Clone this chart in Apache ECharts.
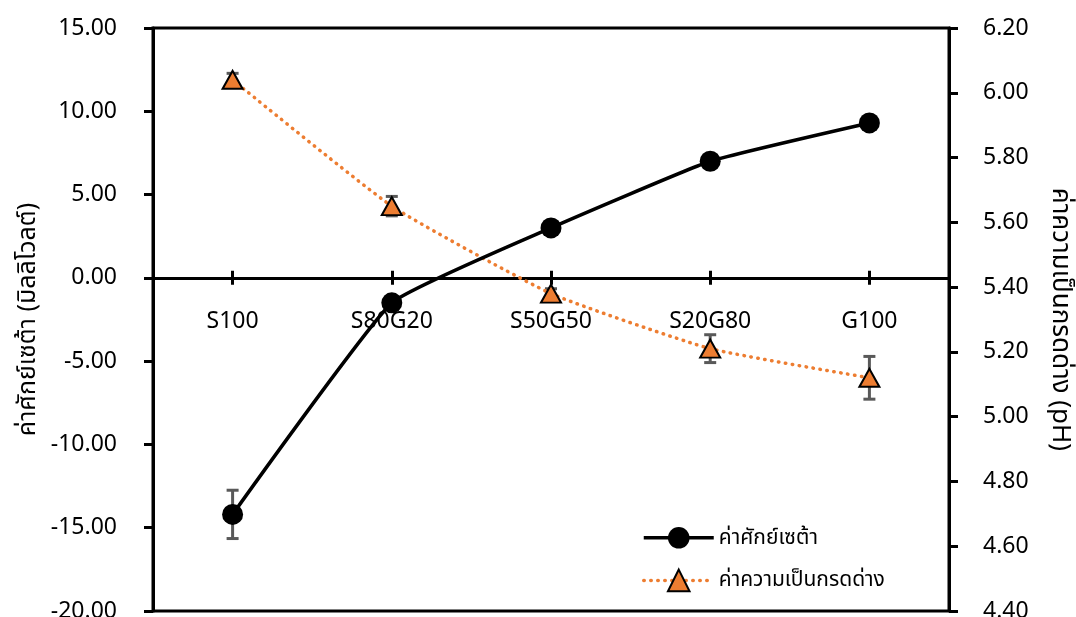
<!DOCTYPE html>
<html>
<head>
<meta charset="utf-8">
<script src="https://cdn.jsdelivr.net/npm/echarts@6/dist/echarts.min.js"></script>
<style>
  html, body { margin: 0; padding: 0; background: #fff; }
  #chart { width: 1076px; height: 617px; }
</style>
</head>
<body>
<div id="chart"></div>
<script>
// Samples (soy / gelatin blend ratios)
const categories = ['S100', 'S80G20', 'S50G50', 'S20G80', 'G100'];

// Zeta potential (mV) with standard deviation
const zeta = [-14.2, -1.5, 3.0, 7.0, 9.3];
const zetaErr = [1.45, 0.35, 0.3, 0.3, 0.35];

// pH with standard deviation
const ph = [6.04, 5.65, 5.38, 5.21, 5.12];
const phErr = [0.02, 0.03, 0.015, 0.043, 0.066];

// Axis ranges
const zetaMin = -20, zetaMax = 15, zetaStep = 5;
const phMin = 4.4, phMax = 6.2, phStep = 0.2;

const zetaName = 'ค่าศักย์เซต้า';
const phName = 'ค่าความเป็นกรดด่าง';
const zetaAxisTitle = 'ค่าศักย์เซต้า (มิลลิโวลต์)';
const phAxisTitle = 'ค่าความเป็นกรดด่าง (pH)';

const FONT = '"Noto Sans", "Noto Sans Thai", "DejaVu Sans", sans-serif';
const ORANGE = '#ED7D31';
const ERR_COLOR = '#595959';

function errorBars(values, errs) {
  return values.map((v, i) => [i, v - errs[i], v + errs[i]]);
}

function renderErrorBar(params, api) {
  const x = api.value(0);
  const lo = api.coord([x, api.value(1)]);
  const hi = api.coord([x, api.value(2)]);
  const half = 6;
  const style = { stroke: ERR_COLOR, lineWidth: 3, fill: null };
  return {
    type: 'group',
    children: [
      { type: 'line', shape: { x1: lo[0], y1: lo[1], x2: hi[0], y2: hi[1] }, style },
      { type: 'line', shape: { x1: lo[0] - half, y1: lo[1], x2: lo[0] + half, y2: lo[1] }, style },
      { type: 'line', shape: { x1: hi[0] - half, y1: hi[1], x2: hi[0] + half, y2: hi[1] }, style }
    ]
  };
}

// Category names sit just under the zero line of the zeta axis
function renderCategoryLabel(params, api) {
  const i = api.value(0);
  const pt = api.coord([i, 0]);
  return {
    type: 'text',
    x: pt[0],
    y: pt[1] + 44,
    style: {
      text: categories[i],
      fill: '#000',
      font: '23px ' + FONT,
      align: 'center',
      verticalAlign: 'middle'
    }
  };
}

const chart = echarts.init(document.getElementById('chart'), null, { renderer: 'canvas' });

const axisText = { color: '#000', fontSize: 23, fontFamily: FONT };

chart.setOption({
  animation: false,
  backgroundColor: '#fff',
  textStyle: { fontFamily: FONT, color: '#000' },
  grid: {
    left: 153, right: 127, top: 28, bottom: 6,
    containLabel: false,
    outerBoundsMode: 'none',
    show: true, borderColor: '#000', borderWidth: 3, backgroundColor: 'transparent'
  },
  legend: {
    orient: 'vertical',
    left: 637,
    top: 522,
    itemWidth: 70,
    itemHeight: 27,
    itemGap: 20,
    lineStyle: { width: 3.5 },
    textStyle: { color: '#000', fontSize: 21, fontFamily: FONT },
    data: [zetaName, phName]
  },
  xAxis: [
    {
      type: 'category',
      data: categories,
      boundaryGap: true,
      axisLine: { onZero: true, onZeroAxisIndex: 0, lineStyle: { color: '#000', width: 3 } },
      axisTick: { show: true, alignWithLabel: true, length: 7, lineStyle: { color: '#000', width: 3 } },
      axisLabel: { show: false },
      splitLine: { show: false }
    },
    {
      type: 'category',
      data: categories,
      position: 'bottom',
      boundaryGap: true,
      axisLine: { onZero: true, onZeroAxisIndex: 0, lineStyle: { color: '#000', width: 3 } },
      axisTick: { show: true, inside: true, alignWithLabel: true, length: 7, lineStyle: { color: '#000', width: 3 } },
      axisLabel: { show: false },
      splitLine: { show: false }
    }
  ],
  yAxis: [
    {
      type: 'value',
      min: zetaMin, max: zetaMax, interval: zetaStep,
      position: 'left',
      axisLine: { show: true, onZero: false, lineStyle: { color: '#000', width: 3 } },
      axisTick: { show: true, length: 9, lineStyle: { color: '#000', width: 3 } },
      axisLabel: { ...axisText, margin: 36, formatter: v => v.toFixed(2) },
      splitLine: { show: false },
      name: zetaAxisTitle,
      nameLocation: 'middle',
      nameRotate: 90,
      nameGap: 112,
      nameTextStyle: { color: '#000', fontSize: 25, fontFamily: FONT }
    },
    {
      type: 'value',
      min: phMin, max: phMax, interval: phStep,
      position: 'right',
      axisLine: { show: true, onZero: false, lineStyle: { color: '#000', width: 3 } },
      axisTick: { show: true, length: 9, lineStyle: { color: '#000', width: 3 } },
      axisLabel: { ...axisText, margin: 34, formatter: v => v.toFixed(2) },
      splitLine: { show: false },
      name: phAxisTitle,
      nameLocation: 'middle',
      nameRotate: -90,
      nameGap: 98,
      nameTextStyle: { color: '#000', fontSize: 26, fontFamily: FONT }
    }
  ],
  series: [
    {
      name: 'categoryLabels',
      type: 'custom',
      xAxisIndex: 0, yAxisIndex: 0,
      renderItem: renderCategoryLabel,
      data: categories.map((c, i) => [i, 0]),
      clip: false,
      z: 1,
      silent: true
    },
    {
      name: 'zetaErr',
      type: 'custom',
      xAxisIndex: 0, yAxisIndex: 0,
      renderItem: renderErrorBar,
      data: errorBars(zeta, zetaErr),
      z: 1,
      silent: true
    },
    {
      name: 'phErr',
      type: 'custom',
      xAxisIndex: 0, yAxisIndex: 1,
      renderItem: renderErrorBar,
      data: errorBars(ph, phErr),
      z: 1,
      silent: true
    },
    {
      name: phName,
      type: 'line',
      xAxisIndex: 0, yAxisIndex: 1,
      data: ph,
      smooth: 0.15,
      symbol: 'triangle',
      symbolSize: [20, 18],
      itemStyle: { color: ORANGE, borderColor: '#000', borderWidth: 2 },
      lineStyle: { color: ORANGE, width: 3.5, type: [0.5, 6.5], cap: 'round' },
      z: 3
    },
    {
      name: zetaName,
      type: 'line',
      xAxisIndex: 0, yAxisIndex: 0,
      data: zeta,
      smooth: 0.12,
      symbol: 'circle',
      symbolSize: 21,
      itemStyle: { color: '#000', borderColor: '#000', borderWidth: 0 },
      lineStyle: { color: '#000', width: 3.5 },
      z: 4
    }
  ]
});
</script>
</body>
</html>
